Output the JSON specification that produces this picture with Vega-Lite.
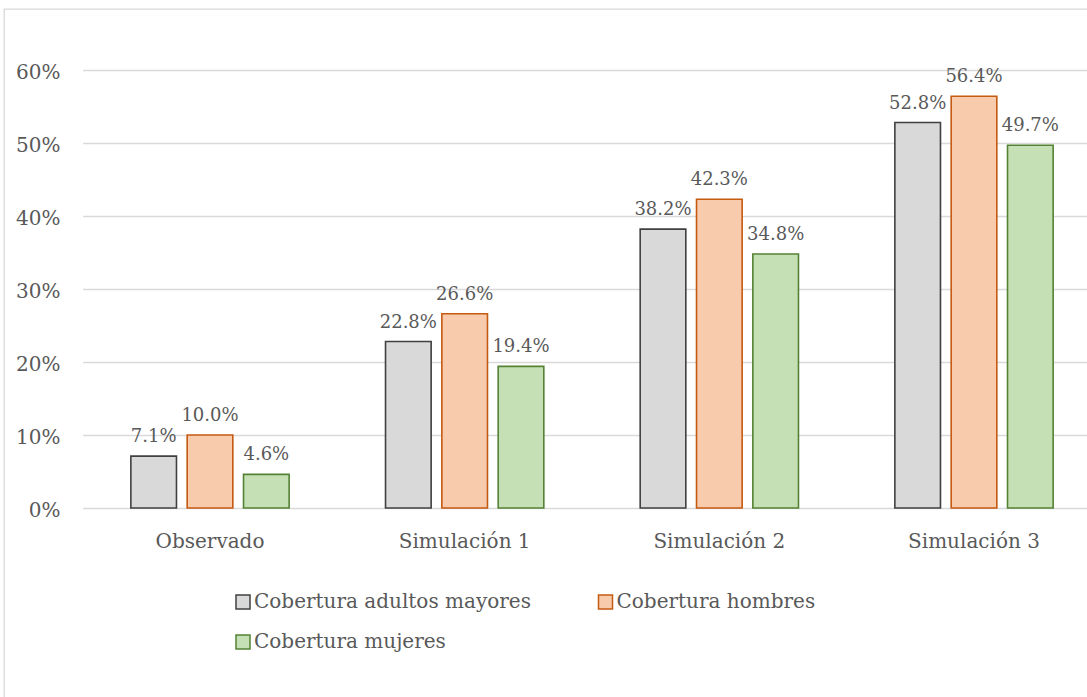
{
  "$schema": "https://vega.github.io/schema/vega-lite/v6.json",
  "width": 1084,
  "height": 689,
  "autosize": {"type": "none"},
  "padding": {"left": 4, "top": 9, "right": -1, "bottom": -1},
  "background": "white",
  "config": {
    "view": {"stroke": "#d9d9d9", "strokeWidth": 1.3},
    "font": "DejaVu Serif"
  },
  "data": {
    "values": [
      {"escenario": "Observado", "serie": "Cobertura adultos mayores", "valor": 0.071},
      {"escenario": "Observado", "serie": "Cobertura hombres", "valor": 0.100},
      {"escenario": "Observado", "serie": "Cobertura mujeres", "valor": 0.046},
      {"escenario": "Simulación 1", "serie": "Cobertura adultos mayores", "valor": 0.228},
      {"escenario": "Simulación 1", "serie": "Cobertura hombres", "valor": 0.266},
      {"escenario": "Simulación 1", "serie": "Cobertura mujeres", "valor": 0.194},
      {"escenario": "Simulación 2", "serie": "Cobertura adultos mayores", "valor": 0.382},
      {"escenario": "Simulación 2", "serie": "Cobertura hombres", "valor": 0.423},
      {"escenario": "Simulación 2", "serie": "Cobertura mujeres", "valor": 0.348},
      {"escenario": "Simulación 3", "serie": "Cobertura adultos mayores", "valor": 0.528},
      {"escenario": "Simulación 3", "serie": "Cobertura hombres", "valor": 0.564},
      {"escenario": "Simulación 3", "serie": "Cobertura mujeres", "valor": 0.497}
    ]
  },
  "encoding": {
    "x": {
      "field": "escenario",
      "type": "nominal",
      "sort": ["Observado", "Simulación 1", "Simulación 2", "Simulación 3"],
      "scale": {"range": [78.67, 1097.33], "paddingInner": 0.3364, "paddingOuter": 0.1682},
      "axis": {
        "title": null,
        "labelAngle": 0,
        "domain": false,
        "ticks": false,
        "grid": false,
        "labelPadding": -151,
        "labelBaseline": "alphabetic",
        "labelFontSize": 20,
        "labelColor": "#595959"
      }
    },
    "xOffset": {
      "field": "serie",
      "type": "nominal",
      "sort": ["Cobertura adultos mayores", "Cobertura hombres", "Cobertura mujeres"],
      "scale": {"paddingInner": 0.19, "paddingOuter": 0.095}
    },
    "y": {
      "field": "valor",
      "type": "quantitative",
      "scale": {"domain": [0, 0.6], "range": [499, 61], "nice": false},
      "axis": {
        "title": null,
        "format": ".0%",
        "values": [0, 0.1, 0.2, 0.3, 0.4, 0.5, 0.6],
        "domain": false,
        "ticks": false,
        "labelPadding": -56,
        "labelOffset": 2,
        "labelFontSize": 20,
        "labelColor": "#595959",
        "gridColor": "#d9d9d9",
        "gridWidth": 1.3
      }
    }
  },
  "layer": [
    {
      "mark": {"type": "bar", "strokeWidth": 1.6},
      "encoding": {
        "fill": {
          "field": "serie",
          "type": "nominal",
          "scale": {
            "domain": ["Cobertura adultos mayores", "Cobertura hombres", "Cobertura mujeres"],
            "range": ["#d9d9d9", "#f8cbad", "#c5e0b4"]
          },
          "legend": {
            "orient": "none",
            "legendX": 229,
            "legendY": 583,
            "direction": "horizontal",
            "columns": 2,
            "title": null,
            "symbolType": "square",
            "symbolSize": 196,
            "symbolStrokeWidth": 1.5,
            "labelFontSize": 20,
            "labelColor": "#595959",
            "labelOffset": 1,
            "rowPadding": 20,
            "columnPadding": 64.5,
            "padding": 0,
            "labelLimit": 400
          }
        },
        "stroke": {
          "field": "serie",
          "type": "nominal",
          "scale": {
            "domain": ["Cobertura adultos mayores", "Cobertura hombres", "Cobertura mujeres"],
            "range": ["#404040", "#c55a11", "#548235"]
          }
        }
      }
    },
    {
      "mark": {"type": "text", "baseline": "alphabetic", "dy": -14, "fontSize": 18, "color": "#595959"},
      "encoding": {
        "text": {"field": "valor", "type": "quantitative", "format": ".1%"}
      }
    }
  ]
}
